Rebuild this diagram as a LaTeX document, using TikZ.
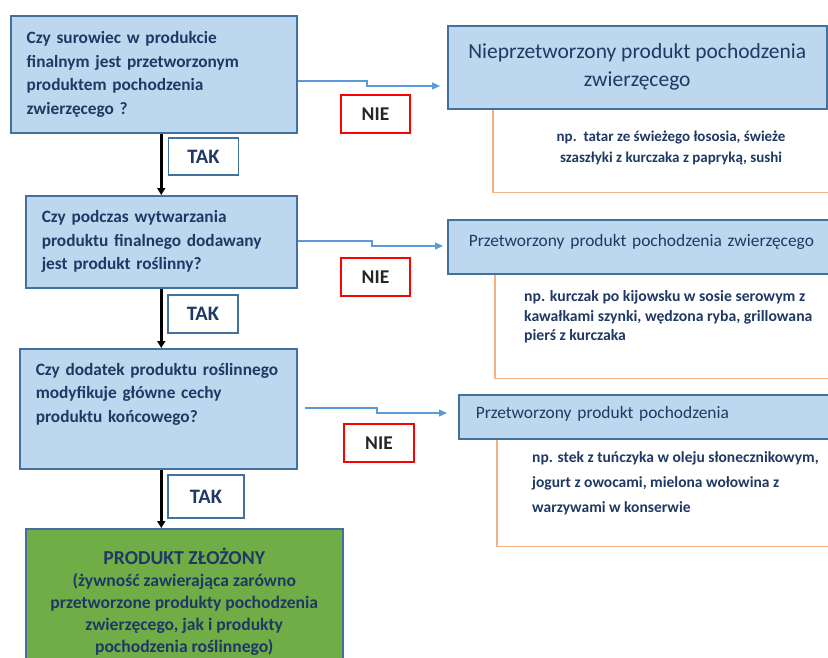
\documentclass[tikz,border=0pt]{standalone}
\usepackage{fontspec}
\setmainfont{Carlito}
\usetikzlibrary{arrows.meta}

\definecolor{boxblue}{HTML}{BDD7EE}
\definecolor{boxedge}{HTML}{41719C}
\definecolor{navy}{HTML}{1F3864}
\definecolor{arrowblue}{HTML}{5B9BD5}
\definecolor{bracketorange}{HTML}{F4B183}
\definecolor{compgreen}{HTML}{70AD47}

\begin{document}
\begin{tikzpicture}[x=1pt, y=-1pt,
        question/.style={anchor=north west, draw=boxedge, fill=boxblue, line width=1.5pt, inner xsep=16pt, inner ysep=0pt, align=left, text=navy, font=\bfseries\fontsize{17.3}{23.5}\selectfont},
        answer/.style={anchor=north west, draw=boxedge, fill=boxblue, line width=1.5pt, inner ysep=0pt, text=navy},
        exampletext/.style={text=navy, inner sep=0pt, align=left, font=\bfseries\fontsize{15.5}{20}\selectfont},
        tak/.style={draw=boxedge, fill=white, line width=1.3pt, text=navy, font=\bfseries\fontsize{20.5}{22}\selectfont},
        nie/.style={draw=red, fill=white, line width=1.3pt, text=black!85, font=\bfseries\fontsize{19.5}{22}\selectfont},
        takarrow/.style={line width=2.5pt, -{Triangle[length=7pt, width=8pt]}},
        niearrow/.style={draw=arrowblue, line width=1.2pt, -{Triangle[length=8pt, width=7pt]}},
        bracket/.style={draw=bracketorange, line width=1.5pt}]
        \useasboundingbox (0,0) rectangle (828,657);
        \clip (0,0) rectangle (828,657);

        % questions on the left
        \node[question, text width=254pt, minimum height=117pt] (q1) at (10,15) {Czy surowiec w produkcie\\finalnym jest przetworzonym\\produktem pochodzenia\\zwierzęcego ?};
        \node[question, text width=239pt, minimum height=92pt] (q2) at (25,195) {Czy podczas wytwarzania\\produktu finalnego dodawany\\jest produkt roślinny?};
        \node[question, text width=245pt, minimum height=120pt] (q3) at (19,348) {Czy dodatek produktu roślinnego\\modyfikuje główne cechy\\produktu końcowego?\\[9pt]\mbox{}};
        \node[anchor=north west, draw=boxedge, fill=compgreen, line width=1.5pt, minimum width=317pt, minimum height=145pt, align=center, text=navy, font=\bfseries\fontsize{17.6}{22}\selectfont] (zlozony) at (25,528) {{\fontsize{19.7}{22}\selectfont PRODUKT ZŁOŻONY}\\(żywność zawierająca zarówno\\przetworzone produkty pochodzenia\\zwierzęcego, jak i produkty\\pochodzenia roślinnego)};

        % answers on the right
        \node[answer, minimum width=379pt, minimum height=83pt, align=center, font=\fontsize{21.5}{28}\selectfont] (r1) at (447,25) {Nieprzetworzony produkt pochodzenia\\zwierzęcego};
        \node[answer, minimum width=400pt, minimum height=54pt, inner xsep=21pt, text width=359pt, align=left, text depth=12pt, font=\fontsize{17.4}{20}\selectfont] (r2) at (447,219) {Przetworzony produkt pochodzenia zwierzęcego};
        \node[answer, minimum width=400pt, minimum height=44pt, inner xsep=17pt, text width=366pt, align=left, text depth=8pt, font=\fontsize{17.4}{20}\selectfont] (r3) at (458,394) {Przetworzony produkt pochodzenia};

        \draw[bracket] ([xshift=46pt]r1.south west) -- ++(0,83) -- ++(400,0);
        \draw[bracket] ([xshift=48pt]r2.south west) -- ++(0,104) -- ++(400,0);
        \draw[bracket] ([xshift=39pt]r3.south west) -- ++(0,107) -- ++(400,0);

        \node[exampletext, align=center, font=\bfseries\fontsize{15}{21}\selectfont] (ex1) at (671,148) {np.\ \ tatar ze świeżego łososia, świeże\\szaszłyki z kurczaka z papryką, sushi};
        \node[exampletext, anchor=west, font=\bfseries\fontsize{15.7}{19.5}\selectfont] (ex2) at (524,317) {np. kurczak po kijowsku w sosie serowym z\\kawałkami szynki, wędzona ryba, grillowana\\pierś z kurczaka};
        \node[exampletext, anchor=west, font=\bfseries\fontsize{15.5}{25}\selectfont] (ex3) at (532,483) {np. stek z tuńczyka w oleju słonecznikowym,\\jogurt z owocami, mielona wołowina z\\warzywami w konserwie};

        % TAK / NIE labels
        \node[tak, minimum width=70pt, minimum height=37pt] (tak1) at (203.5,156.5) {TAK};
        \node[tak, minimum width=70pt, minimum height=38pt] (tak2) at (203,314) {TAK};
        \node[tak, minimum width=76pt, minimum height=43pt] (tak3) at (206,496.5) {TAK};
        \node[nie, minimum width=69pt, minimum height=38pt] (nie1) at (375.5,114) {NIE};
        \node[nie, minimum width=69pt, minimum height=38pt] (nie2) at (375.5,277) {NIE};
        \node[nie, minimum width=70pt, minimum height=38pt] (nie3) at (379,443) {NIE};

        % connectors
        \draw[takarrow] (q1.south -| q2.north) -- (q2.north);
        \draw[takarrow] (q2.south) -- (q3.north -| q2.south);
        \draw[takarrow] (q3.south -| q2.south) -- (zlozony.north -| q2.south);

        \draw[niearrow, shorten >=7pt] (q1.east |- 0,81) -| (367,86) -- (r1.west |- 0,86);
        \draw[niearrow, shorten >=4pt] (q2.east |- 0,241) -| (372,246) -- (r2.west |- 0,246);
        \draw[niearrow, shorten <=7pt, shorten >=11pt] (q3.east |- 0,408) -| (377,413) -- (r3.west |- 0,413);
\end{tikzpicture}
\end{document}
